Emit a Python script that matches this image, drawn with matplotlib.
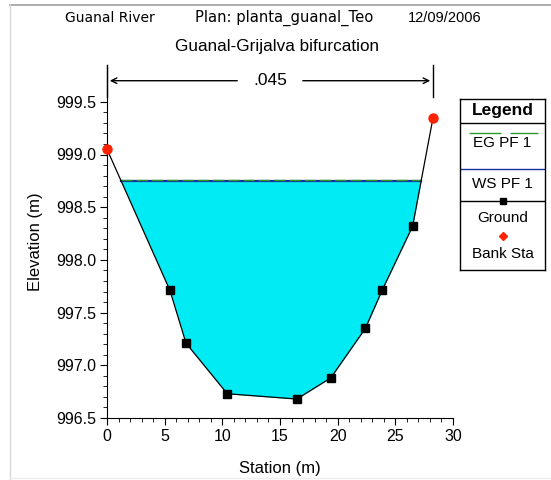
import matplotlib
matplotlib.use("Agg")
import matplotlib.pyplot as plt
import numpy as np
from matplotlib.lines import Line2D

plt.rcParams['font.family'] = ['Liberation Sans', 'DejaVu Sans']

# cross section data
station = [0.0, 5.46, 6.85, 10.43, 16.45, 19.4, 22.4, 23.85, 26.5, 28.27]
elev = [999.05, 997.71, 997.21, 996.73, 996.68, 996.88, 997.35, 997.71, 998.32, 999.35]
bank_sta = [0.0, 28.27]
bank_elev = [999.05, 999.35]
ws_elev = 998.75
eg_elev = 998.76
mann_n = ".045"
xticks = [0, 5, 10, 15, 20, 25, 30]
yticks = [996.5, 997.0, 997.5, 998.0, 998.5, 999.0, 999.5]

W, H = 551, 480
fig = plt.figure(figsize=(W/100, H/100), dpi=100)

# main axes in pixel placement
l, r, b, t = 107, 453, 418, 65
ax = fig.add_axes([l/W, 1-b/H, (r-l)/W, (b-t)/H])
ax.set_xlim(0, 30)
ax.set_ylim(996.5, 996.5 + (b-t)/105.4*1.0)
ax.spines["right"].set_color("none")
ax.spines["top"].set_color("none")
ax.set_xticks(xticks)
ax.set_yticks(yticks)
ax.set_yticklabels(["%.1f" % v for v in yticks])
ax.set_xticks(np.arange(0, 31, 1), minor=True)
ax.set_yticks(np.arange(996.5, 999.55, 0.1), minor=True)
ax.tick_params(which="major", length=5, labelsize=11.5, direction="out", pad=3)
ax.tick_params(which="minor", length=3, direction="out")

# water fill
xs = np.linspace(0, 28.27, 2000)
gs = np.interp(xs, station, elev)
ax.fill_between(xs, gs, ws_elev, where=gs < ws_elev, color="#00ebf4", linewidth=0)
wet = xs[gs < ws_elev]
ax.plot([wet.min(), wet.max()], [ws_elev, ws_elev], color="#1a2fa0", lw=1.6)
ax.plot([wet.min(), wet.max()], [eg_elev, eg_elev], color="#2a9a2a", lw=1.0, dashes=(8, 3))

ax.plot(station, elev, color="black", lw=0.9)
ax.plot(station[1:-1], elev[1:-1], "s", color="black", ms=5.5)
ax.plot(bank_sta, bank_elev, "o", color="#ff2200", ms=6.5, clip_on=False, zorder=5)

# n-value arrow
ya = 999.70
ax.plot([bank_sta[0]]*2, [999.55, ax.get_ylim()[1]], color="black", lw=1, clip_on=False)
ax.plot([bank_sta[1]]*2, [999.55, ax.get_ylim()[1]], color="black", lw=1, clip_on=False)
mid = (bank_sta[0] + bank_sta[1]) / 2
ax.annotate("", xy=(bank_sta[0], ya), xytext=(mid - 2.6, ya),
            arrowprops=dict(arrowstyle="->", color="black", lw=1), annotation_clip=False)
ax.annotate("", xy=(bank_sta[1], ya), xytext=(mid + 2.6, ya),
            arrowprops=dict(arrowstyle="->", color="black", lw=1), annotation_clip=False)
ax.text(mid, ya, mann_n, ha="center", va="center", fontsize=12.5)

ax.set_xlabel("Station (m)", fontsize=12, labelpad=12)
ax.set_ylabel("Elevation (m)", fontsize=12, labelpad=9)

fig.text(110/W, 1-18/H, "Guanal River", ha="center", va="center",
         fontsize=10, family="DejaVu Sans")
fig.text(284/W, 1-18/H, "Plan: planta_guanal_Teo", ha="center", va="center",
         fontsize=10.6, family="DejaVu Sans")
fig.text(445/W, 1-18/H, "12/09/2006", ha="center", va="center", fontsize=10.5)
fig.text(277/W, 1-46/H, "Guanal-Grijalva bifurcation", ha="center", va="center", fontsize=12.3)

# legend box
lx0, ly0, lx1, ly1 = 460, 99, 545, 270
lg = fig.add_axes([lx0/W, 1-ly1/H, (lx1-lx0)/W, (ly1-ly0)/H])
lg.set_xlim(0, lx1-lx0)
lg.set_ylim(ly1-ly0, 0)
lg.set_xticks([])
lg.set_yticks([])
for s in lg.spines.values():
    s.set_linewidth(1)
cx = (lx1-lx0)/2
lg.text(cx, 12, "Legend", ha="center", va="center", fontsize=12.5, fontweight="bold")
lg.plot([0, lx1-lx0], [24, 24], color="black", lw=1)
lg.plot([9, 78], [34, 34], color="#2a9a2a", lw=1, dashes=(23, 6.5))
lg.text(cx, 44, "EG PF 1", ha="center", va="center", fontsize=11)
lg.plot([0, lx1-lx0], [70, 70], color="#1a2fa0", lw=1)
lg.text(cx, 85, "WS PF 1", ha="center", va="center", fontsize=11)
lg.plot([0, lx1-lx0], [102, 102], color="black", lw=1)
lg.plot([cx], [102], "s", color="black", ms=5)
lg.text(cx, 119, "Ground", ha="center", va="center", fontsize=11)
lg.plot([cx], [137], "D", color="#ff2200", ms=4.5)
lg.text(cx, 155, "Bank Sta", ha="center", va="center", fontsize=11)

# window frame lines
fig.add_artist(Line2D([10/W, 1], [1-5/H, 1-5/H], color="#a0a0a0", lw=1.2))
fig.add_artist(Line2D([10/W, 10/W], [1-5/H, 0], color="#d8d8d8", lw=1))
fig.add_artist(Line2D([10/W, 1], [1-478/H, 1-478/H], color="#eeeeee", lw=1))

fig.savefig("out.png", dpi=100)
